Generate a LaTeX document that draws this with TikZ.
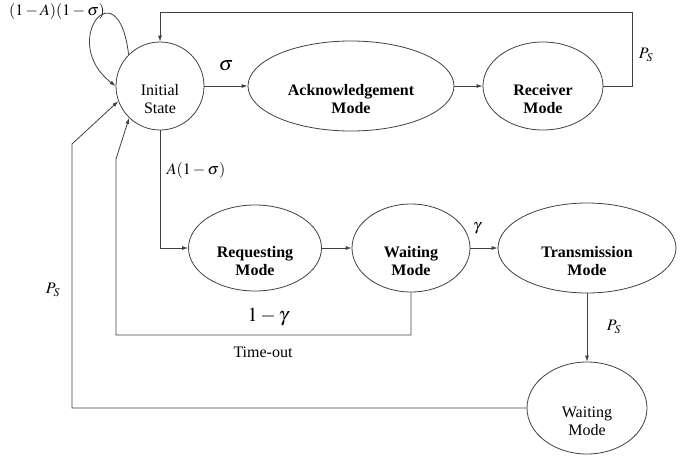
\documentclass[tikz,border=0pt]{standalone}
\usepackage{mathptmx}
\usepackage{fontspec}
\setmainfont{Liberation Serif}
\usetikzlibrary{shapes.geometric,arrows.meta}
\tikzset{
  base/.style={draw=black!75, line width=0.8pt, inner sep=0pt},
  ell/.style={base, ellipse},
  circ/.style={base, circle},
  lab/.style={font=\fontsize{16}{18}\selectfont, inner sep=0pt, align=center},
  txt/.style={label={[lab, yshift=-13pt]center:#1}},
  txtb/.style={label={[lab, font=\fontsize{16}{18}\selectfont\bfseries, yshift=-13pt]center:#1}},
  arr/.style={draw=black!75, line width=0.8pt, -{Latex[length=6pt,width=4pt]}},
  mlab/.style={inner sep=0pt, font=\fontsize{16}{18}\selectfont},
  biglab/.style={inner sep=0pt, font=\fontsize{20}{22}\selectfont}
}
\begin{document}
\begin{tikzpicture}[x=1pt, y=-1pt]
\useasboundingbox (0,0) rectangle (695,455);
% nodes
\node[circ, minimum size=88pt, txt={Initial\\State}] (init) at (160,86) {};
\node[ell, minimum width=206pt, minimum height=90pt, txtb={Acknowledgement\\Mode}] (ack) at (351,86) {};
\node[ell, minimum width=120pt, minimum height=88pt, txtb={Receiver\\Mode}] (recv) at (543,86) {};
\node[ell, minimum width=133pt, minimum height=86pt, txtb={Requesting\\Mode}] (req) at (255,248) {};
\node[ell, minimum width=118pt, minimum height=88pt, txtb={Waiting\\Mode}] (wait1) at (411,248) {};
\node[ell, minimum width=178pt, minimum height=90pt, txtb={Transmission\\Mode}] (trans) at (587,248) {};
\node[ell, minimum width=120pt, minimum height=92pt, txt={Waiting\\Mode}] (wait2) at (587,408) {};
% helper coordinates
\coordinate (tr) at (632,12);
\coordinate (tb1) at (116,335);
\coordinate (tb2) at (116,159);
\coordinate (ob1) at (72,408);
\coordinate (ob2) at (72,144);
% connectors
\draw[arr] (init.135) .. controls (118,-35) and (58,42) .. (init.180);
\draw[arr] (init.east) -- (ack.west);
\draw[arr] (ack.east) -- (recv.west);
\draw[arr] (recv.east) -| (tr) -| (init.north);
\draw[arr] (init.south) |- (req.west);
\draw[arr] (req.east) -- (wait1.west);
\draw[arr] (wait1.east) -- (trans.west);
\draw[arr] (wait1.south) |- (tb1) -- (tb2) -- (init.226);
\draw[arr] (trans.south) -- (wait2.north);
\draw[arr] (wait2.west) -- (ob1) -- (ob2) -- (init.200);
% labels
\node[mlab] (l1) at (57,11) {$(1-A)(1-\sigma)$};
\node[biglab] (l2) at (226,66) {$\sigma$};
\node[mlab] (l3) at (646,55) {$P_S$};
\node[mlab] (l4) at (196,170) {$A(1-\sigma)$};
\node[mlab] (l5) at (477,228) {$\gamma$};
\node[biglab] (l6) at (268,317) {$1-\gamma$};
\node[mlab] (l7) at (263,352) {Time-out};
\node[mlab] (l8) at (614,327) {$P_S$};
\node[mlab] (l9) at (53,290) {$P_S$};
\end{tikzpicture}
\end{document}
